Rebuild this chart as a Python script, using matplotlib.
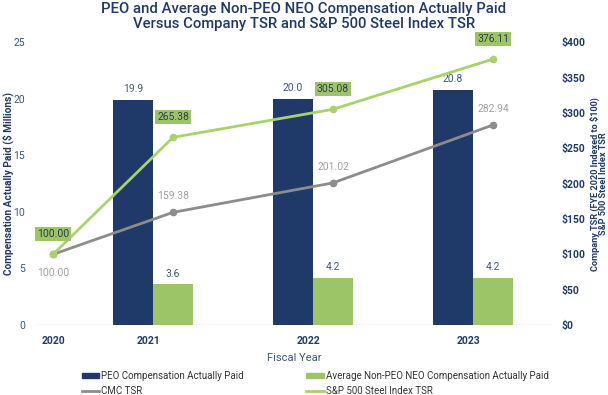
import matplotlib.pyplot as plt
from matplotlib.lines import Line2D
from matplotlib.patches import Patch

plt.rcParams["font.family"] = ["Roboto", "DejaVu Sans"]

years = ["2020", "2021", "2022", "2023"]
bar_years = ["2021", "2022", "2023"]
peo_cap = [19.9, 20.0, 20.8]
neo_cap = [3.6, 4.2, 4.2]
cmc_tsr = [100.00, 159.38, 201.02, 282.94]
steel_tsr = [100.00, 265.38, 305.08, 376.11]

NAVY = "#1f3a68"
LABEL = "#3b5580"
GREEN = "#9cc568"
LGREEN = "#a6d36a"
GREY = "#8c8c8c"

fig = plt.figure(figsize=(6.08, 3.95), dpi=100)
ax = fig.add_axes([0.0576, 0.177, 0.852, 0.7163])
ax2 = ax.twinx()

# bar groups at 1, 2, 3; 2020 sits a bit left of the first group
grp = [1, 2, 3]
w = 0.25
line_x = [0.375] + [g + w / 2 for g in grp]

ax.bar([g - w / 2 for g in grp], peo_cap, w, color=NAVY, zorder=2)
ax.bar([g + w / 2 for g in grp], neo_cap, w, color=GREEN, zorder=2)
for g, v in zip(grp, peo_cap):
    ax.text(g - w / 2, v + 0.5, f"{v:.1f}", ha="center", va="bottom",
            color=LABEL, fontsize=7.5)
for g, v in zip(grp, neo_cap):
    ax.text(g + w / 2, v + 0.5, f"{v:.1f}", ha="center", va="bottom",
            color=LABEL, fontsize=7.5)

ax.set_xlim(0.2625, 3.5)
ax.set_ylim(0, 25)
ax2.set_ylim(0, 400)
ax.set_zorder(1)
ax2.set_zorder(2)
ax.patch.set_visible(False)

ax2.plot(line_x, cmc_tsr, color=GREY, lw=2, marker="o", ms=4.5)
ax2.plot(line_x, steel_tsr, color=LGREEN, lw=2, marker="o", ms=4.5)

for i, (x, v) in enumerate(zip(line_x, cmc_tsr)):
    if i == 0:
        ax2.annotate(f"{v:.2f}", (x, v), xytext=(0, -10), textcoords="offset points",
                     ha="center", va="top", color="#a0a0a0", fontsize=7.5)
    else:
        ax2.annotate(f"{v:.2f}", (x, v), xytext=(0, 8), textcoords="offset points",
                     ha="center", va="bottom", color="#a0a0a0", fontsize=7.5)
for x, v in zip(line_x, steel_tsr):
    ax2.annotate(f"{v:.2f}", (x, v), xytext=(0, 11), textcoords="offset points",
                 ha="center", va="bottom", color="#2d3e50", fontsize=7.5,
                 bbox=dict(boxstyle="square,pad=0.2", fc=GREEN, ec="none"))

for a in (ax, ax2):
    for s in a.spines.values():
        s.set_visible(False)
ax.axhline(0, color="#e0e0e0", lw=1, zorder=1)

ax.set_xticks(line_x[:1] + [g - 0.03 for g in grp])
ax.set_xticklabels(years, fontweight="bold", color=NAVY, fontsize=7.5)
ax.tick_params(axis="x", length=0, pad=8)
ax.set_yticks(range(0, 26, 5))
ax.tick_params(axis="y", length=0, labelcolor=LABEL, labelsize=7.5, pad=7)
ax2.set_yticks(range(0, 401, 50))
ax2.set_yticklabels([f"${v}" for v in range(0, 401, 50)], fontweight="bold",
                    color=NAVY, fontsize=7.5)
ax2.tick_params(axis="y", length=0, pad=6)

ax.set_xlabel("Fiscal Year", color=LABEL, fontsize=8, labelpad=5)
ax.set_ylabel("Compensation Actually Paid ($ Millions)", color=NAVY,
              fontweight="bold", fontsize=7.3)
ax.yaxis.set_label_coords(-0.04, 0.5)
ax2.set_ylabel("Company TSR (FYE 2020 Indexed to $100)\nS&P 500 Steel Index TSR",
               color=NAVY, fontweight="bold", fontsize=6.6, linespacing=0.85)
ax2.yaxis.set_label_coords(1.071, 0.5)

fig.suptitle("PEO and Average Non-PEO NEO Compensation Actually Paid\n"
             "Versus Company TSR and S&P 500 Steel Index TSR",
             color=NAVY, fontsize=10.7, fontweight="medium", y=0.995,
             linespacing=1.1)

handles = [Patch(color=NAVY), Line2D([], [], color=GREY, lw=2),
           Patch(color=GREEN), Line2D([], [], color=LGREEN, lw=2)]
labels = ["PEO Compensation Actually Paid", "CMC TSR",
          "Average Non-PEO NEO Compensation Actually Paid",
          "S&P 500 Steel Index TSR"]
leg = fig.legend(handles, labels, ncol=2, loc="lower left",
                 bbox_to_anchor=(0.12, -0.024), frameon=False, fontsize=7,
                 handlelength=1.8, handleheight=0.35, handletextpad=0.2,
                 columnspacing=6.4, labelspacing=0.5)
for t in leg.get_texts():
    t.set_color("#333333")

fig.savefig("out.png", dpi=100)
